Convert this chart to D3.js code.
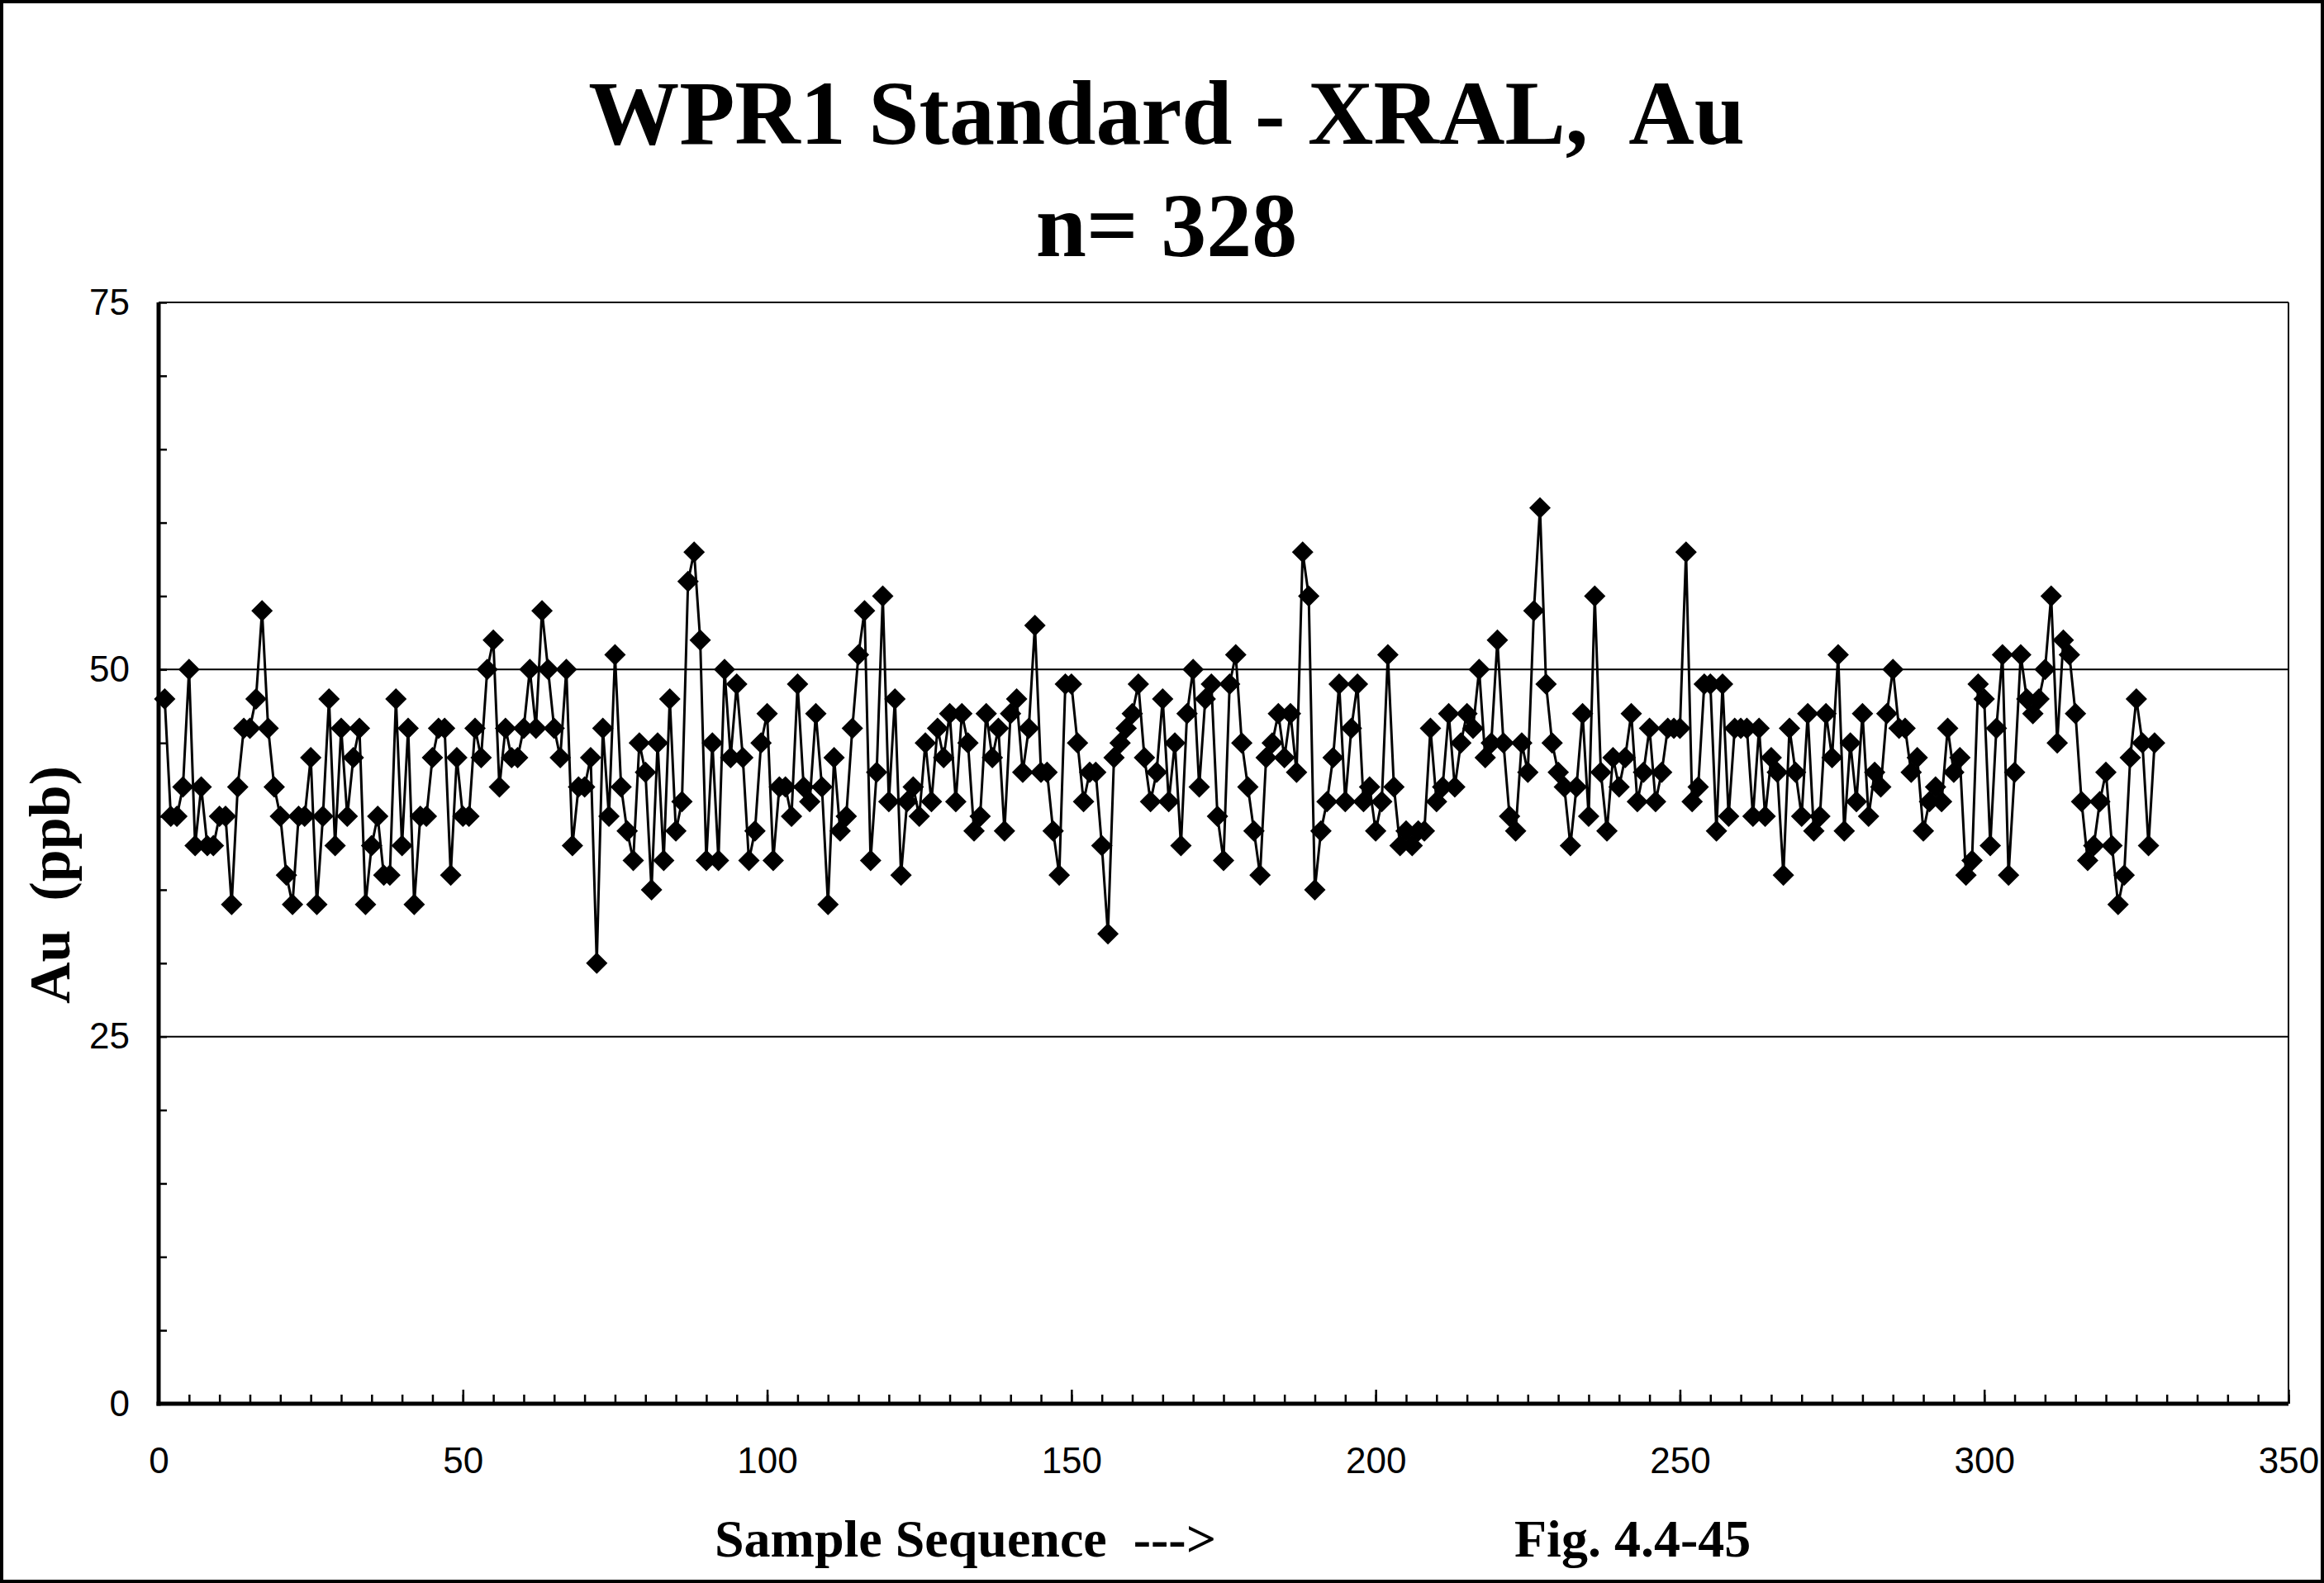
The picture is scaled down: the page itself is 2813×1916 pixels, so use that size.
<!DOCTYPE html>
<html>
<head>
<meta charset="utf-8">
<script src="https://cdn.jsdelivr.net/npm/d3@7"></script>
<style>
  body { margin: 0; background: #fff; }
  text { white-space: pre; }
</style>
</head>
<body>
<div id="chart"></div>
<script>
// Au results (ppb) for samples 1..328
var auValues = [
  48,40,40,42,50,38,42,38,38,40, 40,34,42,46,46,48,54,46,42,40,
  36,34,40,40,44,34,40,48,38,46, 40,44,46,34,38,40,36,36,48,38,
  46,34,40,40,44,46,46,36,44,40, 40,46,44,50,52,42,46,44,44,46,
  50,46,54,50,46,44,50,38,42,42, 44,30,46,40,51,42,39,37,45,43,
  35,45,37,48,39,41,56,58,52,37, 45,37,50,44,49,44,37,39,45,47,
  37,42,42,40,49,42,41,47,42,34, 44,39,40,46,51,54,37,43,55,41,
  48,36,41,42,40,45,41,46,44,47, 41,47,45,39,40,47,44,46,39,47,
  48,43,46,53,43,43,39,36,49,49, 45,41,43,43,38,32,44,45,46,47,
  49,44,41,43,48,41,45,38,47,50, 42,48,49,40,37,49,51,45,42,39,
  36,44,45,47,44,47,43,58,55,35, 39,41,44,49,41,46,49,41,42,39,
  41,51,42,38,39,38,39,39,46,41, 42,47,42,45,47,46,50,44,45,52,
  45,40,39,45,43,54,61,49,45,43, 42,38,42,47,40,55,43,39,44,42,
  44,47,41,43,46,41,43,46,46,46, 58,41,42,49,49,39,49,40,46,46,
  46,40,46,40,44,43,36,46,43,40, 47,39,40,47,44,51,39,45,41,47,
  40,43,42,47,50,46,46,43,44,39, 41,42,41,46,43,44,36,37,49,48,
  38,46,51,36,43,51,48,47,48,50, 55,45,52,51,47,41,37,38,41,43,
  38,34,36,44,48,45,38,45
];
var yTicks = [0, 25, 50, 75];
var yGrid = [25, 50, 75];
var xTicks = [0, 50, 100, 150, 200, 250, 300, 350];
var titleLines = ["WPR1 Standard - XRAL,  Au", "n= 328"];
var xTitle = "Sample Sequence  --->";
var figLabel = "Fig. 4.4-45";
var yTitle = "Au  (ppb)";

var data = auValues.map(function (v, i) { return { n: i + 1, au: v }; });

// set the dimensions and margins of the graph
var W = 2813, H = 1916;
var margin = { top: 366, right: 43, bottom: 217, left: 192 },
    width = W - margin.left - margin.right,
    height = H - margin.top - margin.bottom;

var svgRoot = d3.select("#chart")
    .append("svg")
    .attr("width", W)
    .attr("height", H);

// outer frame of the picture
svgRoot.append("rect")
    .attr("x", 2).attr("y", 2)
    .attr("width", W - 4).attr("height", H - 4)
    .attr("fill", "#fff")
    .attr("stroke", "#000")
    .attr("stroke-width", 4);

// titles
svgRoot.selectAll(".title")
    .data(titleLines)
    .enter()
    .append("text")
    .attr("class", "title")
    .attr("x", 1412)
    .attr("y", function (d, i) { return 174 + i * 136; })
    .attr("text-anchor", "middle")
    .style("font-family", "'Liberation Serif', 'Times New Roman', serif")
    .style("font-weight", "bold")
    .style("font-size", "110px")
    .text(function (d) { return d; });

var svg = svgRoot.append("g")
    .attr("transform", "translate(" + margin.left + "," + margin.top + ")");

var x = d3.scaleLinear().domain([0, 350]).range([0, width]);
var y = d3.scaleLinear().domain([0, 75]).range([height, 0]);

// horizontal grid lines
svg.selectAll(".grid")
    .data(yGrid)
    .enter()
    .append("line")
    .attr("x1", 0).attr("x2", width)
    .attr("y1", function (d) { return y(d); })
    .attr("y2", function (d) { return y(d); })
    .attr("stroke", "#000")
    .attr("stroke-width", 2);

// right border
svg.append("line")
    .attr("x1", width).attr("x2", width)
    .attr("y1", 0).attr("y2", height)
    .attr("stroke", "#000")
    .attr("stroke-width", 2);

// minor ticks, pointing inside
var yMinor = svg.append("g")
    .call(d3.axisLeft(y).tickValues(d3.range(0, 76, 5)).tickSize(-10).tickFormat(""));
var xMinor = svg.append("g")
    .attr("transform", "translate(0," + height + ")")
    .call(d3.axisBottom(x).tickValues(d3.range(0, 351, 5)).tickSize(-11).tickFormat(""));
var xMajor = svg.append("g")
    .attr("transform", "translate(0," + height + ")")
    .call(d3.axisBottom(x).tickValues(xTicks).tickSize(-17).tickPadding(53));
var yLabels = svg.append("g")
    .call(d3.axisLeft(y).tickValues(yTicks).tickSize(0).tickPadding(35));

[yMinor, xMinor, xMajor, yLabels].forEach(function (g) {
    g.select(".domain").remove();
    g.selectAll(".tick line").attr("stroke", "#000").attr("stroke-width", 2.5);
    g.selectAll("text")
        .attr("fill", "#000")
        .style("font-family", "'Liberation Sans', Arial, sans-serif")
        .style("font-size", "44px");
});

// the line through the samples
var line = d3.line()
    .x(function (d) { return x(d.n); })
    .y(function (d) { return y(d.au); });

svg.append("path")
    .datum(data)
    .attr("fill", "none")
    .attr("stroke", "#000")
    .attr("stroke-width", 3)
    .attr("d", line);

// diamond markers
svg.selectAll(".pt")
    .data(data)
    .enter()
    .append("path")
    .attr("class", "pt")
    .attr("d", "M0,-13L13,0L0,13L-13,0Z")
    .attr("fill", "#000")
    .attr("transform", function (d) { return "translate(" + x(d.n) + "," + y(d.au) + ")"; });

// thick axis lines
svg.append("line")
    .attr("x1", 0).attr("x2", 0)
    .attr("y1", 0).attr("y2", height + 2.5)
    .attr("stroke", "#000").attr("stroke-width", 5);
svg.append("line")
    .attr("x1", -2.5).attr("x2", width)
    .attr("y1", height).attr("y2", height)
    .attr("stroke", "#000").attr("stroke-width", 5);

// axis titles
var serif = "'Liberation Serif', 'Times New Roman', serif";
svgRoot.append("text")
    .attr("transform", "translate(84,1071) rotate(-90)")
    .attr("text-anchor", "middle")
    .style("font-family", serif)
    .style("font-weight", "bold")
    .style("font-size", "70px")
    .text(yTitle);

svgRoot.append("text")
    .attr("x", 865)
    .attr("y", 1884)
    .style("font-family", serif)
    .style("font-weight", "bold")
    .style("font-size", "64px")
    .text(xTitle);

svgRoot.append("text")
    .attr("x", 1833)
    .attr("y", 1884)
    .style("font-family", serif)
    .style("font-weight", "bold")
    .style("font-size", "64px")
    .text(figLabel);
</script>
</body>
</html>
